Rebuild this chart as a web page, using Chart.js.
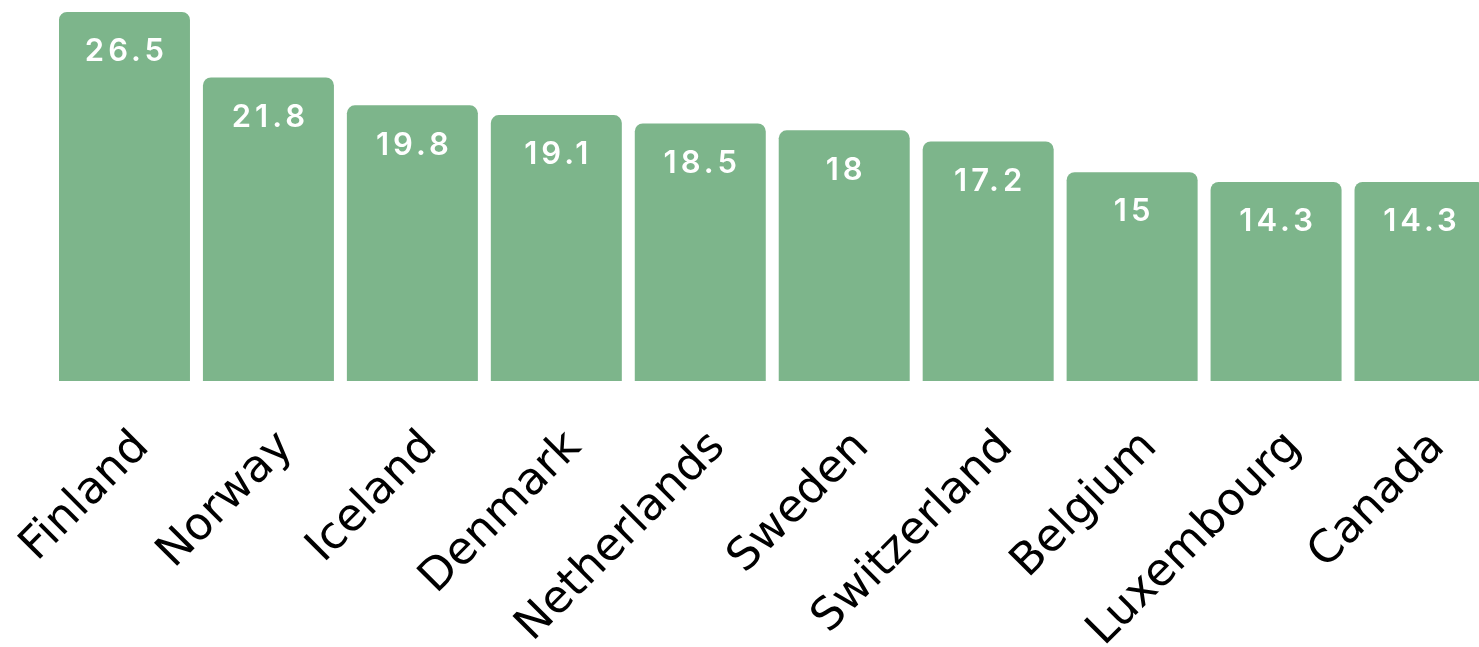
<!DOCTYPE html>
<html>
<head>
<meta charset="utf-8">
<script src="https://cdn.jsdelivr.net/npm/chart.js@4.4.1/dist/chart.umd.min.js"></script>
<style>
  html, body { margin: 0; padding: 0; background: #fff; overflow: hidden; }
  #wrap { position: relative; width: 1492px; height: 647px; }
</style>
</head>
<body>
<div id="wrap"><canvas id="chart"></canvas></div>
<script>
'use strict';

/* ───── DATA ───────────────────────────────────────────────────────────── */
const countries = ['Finland', 'Norway', 'Iceland', 'Denmark', 'Netherlands',
                   'Sweden', 'Switzerland', 'Belgium', 'Luxembourg', 'Canada'];
const values    = [26.5, 21.8, 19.8, 19.1, 18.5, 18, 17.2, 15, 14.3, 14.3];

const BAR_GREEN = '#7db58b';
const FONT      = '"DejaVu Sans", "Noto Sans", sans-serif';

/* ───── VALUE LABELS INSIDE BARS ───────────────────────────────────────── */
const valueLabels = {
    id: 'valueLabels',
    afterDatasetsDraw(chart) {
        const { ctx } = chart;
        const meta = chart.getDatasetMeta(0);
        ctx.save();
        ctx.fillStyle = '#ffffff';
        ctx.font = `600 31px Inter, ${FONT}`;
        ctx.letterSpacing = '4px';
        ctx.textAlign = 'center';
        ctx.textBaseline = 'middle';
        meta.data.forEach((bar, i) => {
            ctx.fillText(String(values[i]), bar.x + 2, bar.y + 40);
        });
        ctx.restore();
    },
};

/* ───── CHART ──────────────────────────────────────────────────────────── */
new Chart(document.getElementById('chart'), {
    type: 'bar',
    data: {
        labels: countries,
        datasets: [{
            data: values,
            backgroundColor: BAR_GREEN,
            borderRadius: { topLeft: 8, topRight: 8 },
            borderSkipped: 'bottom',
            categoryPercentage: 1,
            barPercentage: 0.91,
        }],
    },
    options: {
        responsive: true, maintainAspectRatio: false,
        animation: false,
        layout: { padding: { top: 12, left: 52.5, right: 0, bottom: 0 } },
        plugins: { legend: { display: false }, tooltip: { enabled: false } },
        scales: {
            x: {
                grid: { display: false, drawTicks: false },
                border: { display: false },
                afterFit(scale) {
                    scale.paddingLeft = 0;
                    scale.paddingRight = 0;
                    scale.height = 266;
                },
                ticks: {
                    autoSkip: false,
                    minRotation: 45, maxRotation: 45,
                    padding: 40,
                    labelOffset: 18,
                    color: '#000',
                    font: { family: FONT, size: 45 },
                },
            },
            y: { display: false, min: 0, max: 26.5 },
        },
    },
    plugins: [valueLabels],
});
</script>
</body>
</html>
